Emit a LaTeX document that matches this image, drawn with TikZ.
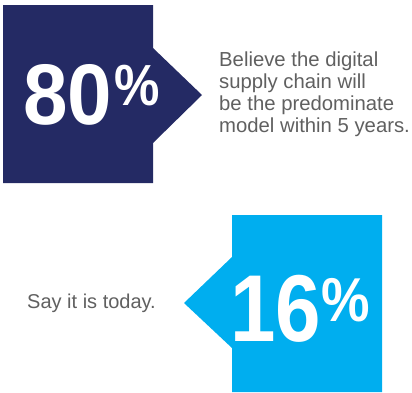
\documentclass[tikz,border=0pt]{standalone}
\usepackage{fontspec}
\setmainfont{Liberation Sans}
\definecolor{navy}{HTML}{242A64}
\definecolor{cyanbox}{HTML}{00AEEF}
\definecolor{bodygray}{HTML}{606060}
\begin{document}
\begin{tikzpicture}[x=1pt,y=-1pt,
  bigdigits/.style={inner sep=0pt,anchor=base west,text=white,font=\bfseries\fontsize{86}{86}\selectfont},
  bigpct/.style={inner sep=0pt,anchor=base west,text=white,font=\bfseries\fontsize{58}{58}\selectfont},
  bodytext/.style={inner sep=0pt,anchor=base west,text=bodygray,align=left,font=\fontsize{20.3}{22}\selectfont}]
\useasboundingbox (0,0) rectangle (412,392);
% top shape
\fill[navy] (3,5) -- (153,5) -- (153,48) -- (202,95) -- (153,143) -- (153,183) -- (3,183) -- cycle;
% bottom shape
\fill[cyanbox] (232,215) -- (382,215) -- (382,392) -- (232,392) -- (232,348) -- (184,303) -- (232,257) -- cycle;
\node[bigdigits] (n80) at (23,124) {\scalebox{0.93}[1]{80}};
\node[bigpct] (p80) at (114,105) {\scalebox{0.88}[1]{\%}};
\node[bodytext] (t1) at (219,132.7) {Believe the digital\\supply chain will\\be the predominate\\model within 5 years.};
\node[bodytext,font=\fontsize{20}{22}\selectfont] (t2) at (27,308) {Say it is today.};
\node[bigdigits,font=\bfseries\fontsize{95}{95}\selectfont] (n16) at (230,341.7) {\scalebox{0.86}[1]{16}};
\node[bigpct,font=\bfseries\fontsize{62}{62}\selectfont] (p16) at (321,321.7) {\scalebox{0.88}[1]{\%}};
\end{tikzpicture}
\end{document}
